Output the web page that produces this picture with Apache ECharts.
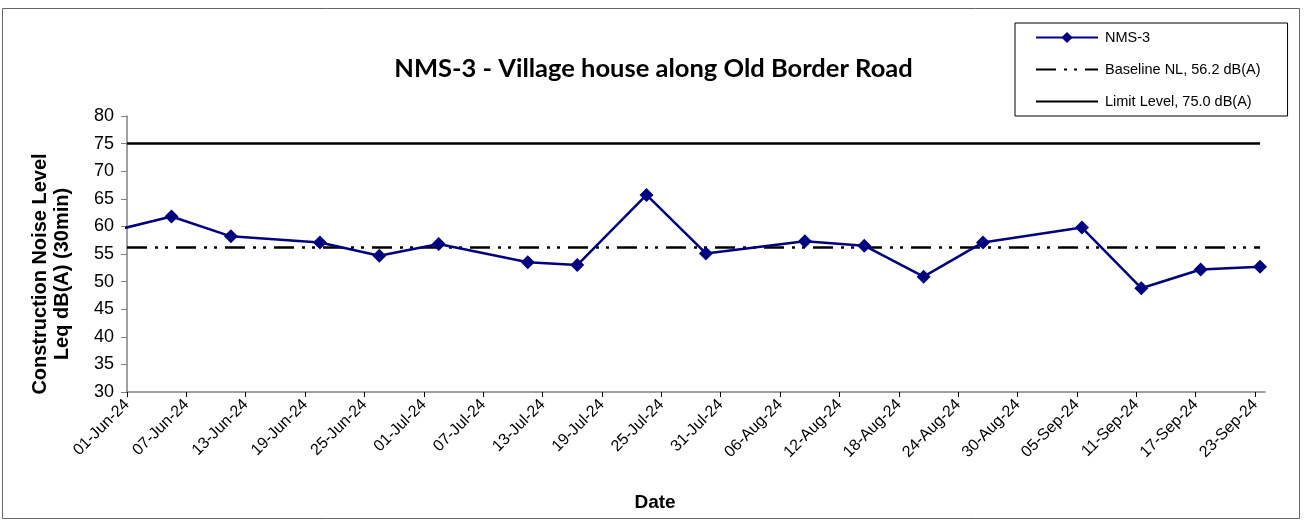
<!DOCTYPE html>
<html>
<head>
<meta charset="utf-8">
<title>NMS-3 Construction Noise</title>
<script src="https://cdn.jsdelivr.net/npm/echarts@6/dist/echarts.min.js"></script>
<style>
  html, body { margin: 0; padding: 0; background: #fff; }
  #chart { width: 1307px; height: 521px; }
</style>
</head>
<body>
<div id="chart"></div>
<script>
// Measurement dates (the first one lies before the plotted period and is clipped)
const measureDates = [
  '2024-05-26', '2024-06-05', '2024-06-11', '2024-06-20', '2024-06-26',
  '2024-07-02', '2024-07-11', '2024-07-16', '2024-07-23', '2024-07-29',
  '2024-08-08', '2024-08-14', '2024-08-20', '2024-08-26', '2024-09-05',
  '2024-09-11', '2024-09-17', '2024-09-23'
];
// Leq (30 min) at NMS-3, dB(A)
const leqValues = [
  57.4, 61.8, 58.2, 57.1, 54.7,
  56.8, 53.5, 53.0, 65.7, 55.1,
  57.3, 56.5, 50.9, 57.1, 59.8,
  48.8, 52.2, 52.7
];
const BASELINE = 56.2;
const LIMIT = 75.0;

const axisStart = '2024-06-01';
const axisDays = 115;          // 01-Jun-24 .. 24-Sep-24
const tickStepDays = 6;
const yTicks = [30, 35, 40, 45, 50, 55, 60, 65, 70, 75, 80];

const MONTHS = ['Jan','Feb','Mar','Apr','May','Jun','Jul','Aug','Sep','Oct','Nov','Dec'];
const DAY_MS = 86400000;
function parseUTC(s) {
  const p = s.split('-').map(Number);
  return Date.UTC(p[0], p[1] - 1, p[2]);
}
const t0 = parseUTC(axisStart);
function dayIndex(s) { return Math.round((parseUTC(s) - t0) / DAY_MS); }
function fmtDay(d) {
  const dt = new Date(t0 + d * DAY_MS);
  const dd = String(dt.getUTCDate()).padStart(2, '0');
  const yy = String(dt.getUTCFullYear()).slice(2);
  return dd + '-' + MONTHS[dt.getUTCMonth()] + '-' + yy;
}

// points sit in the middle of their day, ticks at the start of the day
const seriesData = measureDates.map((d, i) => [dayIndex(d) + 0.5, leqValues[i]]);
const lastX = dayIndex(measureDates[measureDates.length - 1]) + 0.5;
const tickValues = [];
for (let d = 0; d < axisDays; d += tickStepDays) tickValues.push(d);

const nameNMS = 'NMS-3';
const nameBase = 'Baseline NL, ' + BASELINE.toFixed(1) + ' dB(A)';
const nameLimit = 'Limit Level, ' + LIMIT.toFixed(1) + ' dB(A)';

const chart = echarts.init(document.getElementById('chart'), null, { renderer: 'canvas' });
chart.setOption({
  animation: false,
  backgroundColor: '#fff',
  textStyle: { fontFamily: 'Liberation Sans, Arial, sans-serif' },
  title: {
    text: 'NMS-3 - Village house along Old Border Road',
    left: 'center',
    top: 51,
    textStyle: { fontFamily: 'Lato, sans-serif', fontWeight: 'bold', fontSize: 25.5, color: '#000' }
  },
  legend: {
    orient: 'vertical',
    left: 1015,
    top: 23,
    padding: [7, 27, 7, 20],
    itemGap: 17,
    itemWidth: 62,
    itemHeight: 14,
    borderColor: '#000',
    borderWidth: 1,
    textStyle: { fontSize: 14.5, color: '#000', padding: [0, 0, 0, 2] },
    data: [
      { name: nameNMS, itemStyle: { color: '#000080' } },
      { name: nameBase, itemStyle: { opacity: 0 } },
      { name: nameLimit, itemStyle: { opacity: 0 } }
    ]
  },
  grid: { left: 127, top: 116, width: 1138, height: 276, containLabel: false },
  xAxis: {
    type: 'value',
    min: 0,
    max: axisDays,
    interval: tickStepDays,
    splitLine: { show: false },
    axisLine: { show: true, onZero: false, lineStyle: { color: '#808080', width: 1.5 } },
    axisTick: { show: true, inside: false, length: 5, customValues: tickValues, lineStyle: { color: '#000', width: 1 } },
    axisLabel: {
      rotate: 45,
      fontSize: 16,
      color: '#000',
      margin: 10,
      customValues: tickValues,
      formatter: v => (v % tickStepDays === 0 && v < axisDays) ? fmtDay(v) : ''
    }
  },
  yAxis: {
    type: 'value',
    min: yTicks[0],
    max: yTicks[yTicks.length - 1],
    interval: 5,
    splitLine: { show: false },
    axisLine: { show: true, lineStyle: { color: '#808080', width: 1.5 } },
    axisTick: { show: true, inside: false, length: 6, lineStyle: { color: '#808080', width: 1 } },
    axisLabel: { fontSize: 18, color: '#000', margin: 13 }
  },
  graphic: [
    {
      type: 'rect',
      silent: true,
      z: -1,
      shape: { x: 2.5, y: 8.5, width: 1297, height: 510 },
      style: { fill: 'none', stroke: '#666', lineWidth: 1 }
    },
    {
      type: 'text',
      x: 51, y: 274,
      rotation: Math.PI / 2,
      style: {
        text: 'Construction Noise Level\nLeq dB(A) (30min)',
        align: 'center', verticalAlign: 'middle',
        font: 'bold 20px "Liberation Sans", Arial, sans-serif',
        lineHeight: 22,
        fill: '#000'
      }
    },
    {
      type: 'text',
      x: 655, y: 503,
      style: {
        text: 'Date',
        align: 'center', verticalAlign: 'middle',
        font: 'bold 19px "Liberation Sans", Arial, sans-serif',
        fill: '#000'
      }
    }
  ],
  series: [
    {
      name: nameNMS,
      type: 'line',
      data: seriesData,
      clip: true,
      symbol: 'diamond',
      symbolSize: 14,
      showAllSymbol: true,
      z: 5,
      itemStyle: { color: '#000080' },
      lineStyle: { color: '#000080', width: 2.5 }
    },
    {
      name: nameBase,
      type: 'line',
      data: [[0, BASELINE], [lastX, BASELINE]],
      symbol: 'none',
      z: 3,
      itemStyle: { color: '#000' },
      lineStyle: { color: '#000', width: 2.5, type: [20, 8, 3, 7, 3, 8] }
    },
    {
      name: nameLimit,
      type: 'line',
      data: [[0, LIMIT], [lastX, LIMIT]],
      symbol: 'none',
      z: 3,
      itemStyle: { color: '#000' },
      lineStyle: { color: '#000', width: 2.5 }
    }
  ]
});
</script>
</body>
</html>
